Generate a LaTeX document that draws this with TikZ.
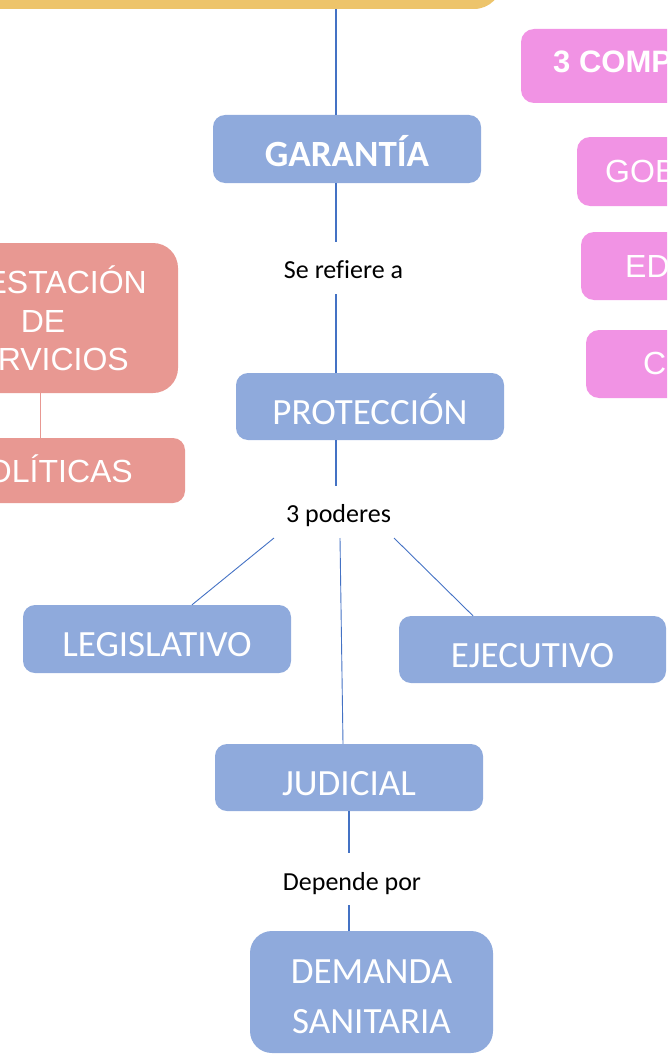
\documentclass[tikz,border=0pt]{standalone}
\usepackage{fontspec}
\setmainfont{Carlito}[Ligatures=NoCommon]
\newfontfamily\arialf{Liberation Sans}
\usetikzlibrary{calc}
\definecolor{cyel}{HTML}{EDC46B}
\definecolor{cblue}{HTML}{8FAADC}
\definecolor{cpink}{HTML}{F193E4}
\definecolor{cred}{HTML}{E89892}
\definecolor{cline}{HTML}{4472C4}
\tikzset{
  bbox/.style={fill=cblue, rounded corners=12pt, inner sep=0pt, text=white,
    font=\fontsize{37}{40}\selectfont, text height=35pt, text depth=0pt},
  pbox/.style={fill=cpink, rounded corners=13pt, inner sep=0pt},
  rbox/.style={fill=cred, inner sep=0pt},
  wtxt/.style={text=white, inner sep=0pt, font=\arialf\fontsize{32}{36}\selectfont},
  lbl/.style={inner sep=0pt, anchor=base, font=\fontsize{26}{30}\selectfont},
  conn/.style={draw=cline, line width=2pt},
  thinconn/.style={draw=cline, line width=0.9pt},
  rconn/.style={draw=cred, line width=1pt}
}
\begin{document}
\begin{tikzpicture}[x=1pt,y=-1pt]
\useasboundingbox (0,0) rectangle (667,1054);
\clip (0,0) rectangle (667,1054);

% top yellow box
\node[fill=cyel, rounded corners=28pt, minimum width=562pt, minimum height=89pt, inner sep=0pt] (top) at (221,-35.5) {};

% blue chain
\node[bbox, minimum width=268pt, minimum height=68pt, font=\bfseries\fontsize{37}{40}\selectfont] (gar) at (347,149) {GARANTÍA};
\node[lbl] (ser) at (343.5,278) {Se refiere a};
\node[bbox, minimum width=268pt, minimum height=67pt] (prot) at (370,406.5) {PROTECCIÓN};
\node[lbl] (pod) at (338.5,522) {3 poderes};
\node[bbox, minimum width=268pt, minimum height=68pt] (leg) at (157,639) {LEGISLATIVO};
\node[bbox, minimum width=267pt, minimum height=67pt] (eje) at (532.5,649.5) {EJECUTIVO};
\node[bbox, minimum width=268pt, minimum height=67pt] (jud) at (349,777.5) {JUDICIAL};
\node[lbl] (dep) at (352,890) {Depende por};
\node[fill=cblue, rounded corners=22pt, inner sep=0pt, minimum width=243pt, minimum height=122pt] (dem) at (371.5,992) {};
\node[text=white, inner sep=0pt, anchor=base, align=center, font=\fontsize{37}{50}\selectfont] (demt) at (371.5,1033) {DEMANDA\\SANITARIA};

% coordinates for free ends
\coordinate (c1) at (336,0);
\coordinate (s1) at (336,242);
\coordinate (s2) at (336,294);
\coordinate (s3) at (336,486);
\coordinate (p1) at (274,538);
\coordinate (p2) at (340,538);
\coordinate (p3) at (394,538);
\coordinate (c2) at (349,0);
\coordinate (d1) at (349,853);
\coordinate (d2) at (349,905);

\draw[conn] (top.south -| c1) -- (gar.north -| c1);
\draw[conn] (gar.south -| c1) -- (s1);
\draw[conn] (s2) -- (prot.north -| c1);
\draw[conn] (prot.south -| c1) -- (s3);
\draw[thinconn] (p1) -- ($(leg.north)+(35,0)$);
\draw[thinconn] (p2) -- ($(jud.north)+(-6,0)$);
\draw[thinconn] (p3) -- ($(eje.north)+(-59.5,0)$);
\draw[conn] (jud.south -| c2) -- (d1);
\draw[conn] (d2) -- (dem.north -| c2);

% red boxes (left, cut)
\node[rbox, rounded corners=25pt, minimum width=270pt, minimum height=150pt] (prest) at (43,318) {};
\node[wtxt, anchor=base east] (prest1) at (147,293) {ESTACIÓN};
\node[wtxt, anchor=base] (prest2) at (43,332) {DE};
\node[wtxt, anchor=base east] (prest3) at (129,370) {RVICIOS};
\node[rbox, rounded corners=12pt, minimum width=290pt, minimum height=65pt] (pol) at (40,470.5) {};
\node[wtxt, anchor=base east] (polt) at (133,482) {OLÍTICAS};
\draw[rconn] (pol.north |- prest.south) -- (pol.north);

% pink boxes (right, cut)
\node[pbox, minimum width=238pt, minimum height=74pt] (comp) at (640,66) {};
\node[wtxt, anchor=base west, font=\arialf\bfseries\fontsize{31}{34}\selectfont] (compt) at (553,73) {3 COMP};
\node[pbox, minimum width=246pt, minimum height=69pt] (gob) at (700,171.5) {};
\node[wtxt, anchor=base west] (gobt) at (605,182) {GOB};
\node[pbox, minimum width=238pt, minimum height=68pt] (edu) at (700,266) {};
\node[wtxt, anchor=base west] (edut) at (625,277) {ED};
\node[pbox, minimum width=228pt, minimum height=68pt] (cc) at (700,364) {};
\node[wtxt, anchor=base west] (cct) at (643,374) {C};
\end{tikzpicture}
\end{document}
